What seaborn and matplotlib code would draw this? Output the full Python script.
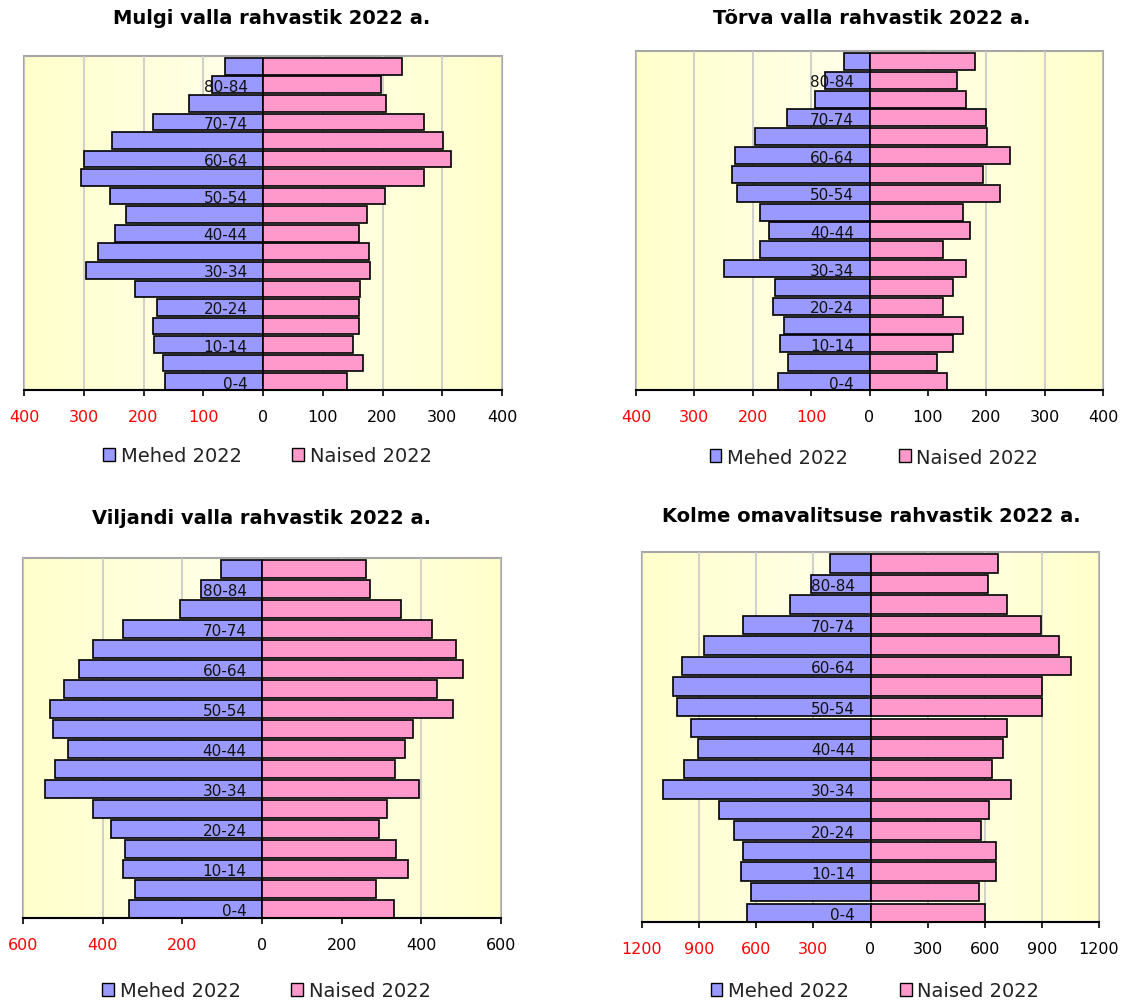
import numpy as np
import pandas as pd
import seaborn as sns
import matplotlib.pyplot as plt
from matplotlib.colors import LinearSegmentedColormap
from matplotlib.patches import Patch, Rectangle

sns.set_style("white")
plt.rcParams['font.family'] = ['DejaVu Sans']
plt.rcParams['text.color'] = 'black'
plt.rcParams['xtick.color'] = 'black'
plt.rcParams['ytick.color'] = 'black'

ages = ["0-4", "5-9", "10-14", "15-19", "20-24", "25-29", "30-34", "35-39", "40-44",
        "45-49", "50-54", "55-59", "60-64", "65-69", "70-74", "75-79", "80-84", "85+"]
shown_ages = ["0-4", "10-14", "20-24", "30-34", "40-44", "50-54", "60-64", "70-74", "80-84"]

# values, 0-4 first
mulgi_men = [164, 168, 182, 184, 177, 214, 297, 276, 247, 230, 256, 304, 299, 253, 184, 124, 85, 64]
mulgi_women = [140, 168, 151, 160, 160, 162, 179, 177, 160, 174, 204, 269, 315, 301, 269, 206, 198, 232]
torva_men = [157, 139, 153, 146, 165, 162, 250, 187, 173, 187, 227, 236, 231, 197, 141, 94, 76, 44]
torva_women = [132, 115, 143, 160, 126, 143, 166, 126, 173, 161, 224, 194, 240, 201, 199, 166, 150, 180]
viljandi_men = [334, 319, 348, 344, 380, 425, 544, 519, 488, 525, 533, 497, 459, 425, 348, 206, 154, 102]
viljandi_women = [331, 287, 366, 337, 294, 315, 395, 334, 359, 380, 480, 440, 505, 487, 427, 348, 270, 260]
kolme_men = [650, 629, 679, 672, 716, 796, 1090, 978, 906, 943, 1016, 1039, 988, 877, 672, 423, 314, 211]
kolme_women = [601, 571, 658, 658, 580, 623, 740, 637, 697, 719, 901, 901, 1055, 990, 894, 718, 615, 667]

men_color = "#9999FF"
women_color = "#FF99CC"
bg_cmap = LinearSegmentedColormap.from_list("bg", ["#FFFFCC", "#FFFFEC", "#FFFFCC"])

panels = [
    {"title": "Mulgi valla rahvastik 2022 a.", "men": mulgi_men, "women": mulgi_women,
     "lim": 400, "step": 100, "rect": [24, 57, 502, 391], "title_xy": (272, 18), "leg_y": 457},
    {"title": "Tõrva valla rahvastik 2022 a.", "men": torva_men, "women": torva_women,
     "lim": 400, "step": 100, "rect": [636, 52, 1103, 391], "title_xy": (872, 18), "leg_y": 458},
    {"title": "Viljandi valla rahvastik 2022 a.", "men": viljandi_men, "women": viljandi_women,
     "lim": 600, "step": 200, "rect": [23, 559, 501, 919], "title_xy": (262, 519), "leg_y": 992},
    {"title": "Kolme omavalitsuse rahvastik 2022 a.", "men": kolme_men, "women": kolme_women,
     "lim": 1200, "step": 300, "rect": [642, 553, 1099, 923], "title_xy": (871, 516), "leg_y": 992},
]

W, H = 1148, 1003
fig = plt.figure(figsize=(W / 100, H / 100), dpi=100)
order = ages[::-1]

for p in panels:
    x0, y0, x1, y1 = p["rect"]
    ax = fig.add_axes([x0 / W, 1 - y1 / H, (x1 - x0) / W, (y1 - y0) / H])
    df = pd.DataFrame({"age": ages, "men": [-v for v in p["men"]], "women": p["women"]})

    # Excel-like horizontal gradient fill of the plot area
    ax.imshow(np.linspace(0, 1, 200)[None, :], cmap=bg_cmap,
              extent=(0, 1, 0, 1), transform=ax.transAxes, aspect="auto", zorder=0)

    sns.barplot(data=df, x="men", y="age", order=order, orient="h", color=men_color,
                width=0.9, edgecolor="black", linewidth=1.2, saturation=1, ax=ax, zorder=2)
    sns.barplot(data=df, x="women", y="age", order=order, orient="h", color=women_color,
                width=0.9, edgecolor="black", linewidth=1.2, saturation=1, ax=ax, zorder=2)

    lim, step = p["lim"], p["step"]
    ticks = np.arange(-lim, lim + step, step)
    for t in ticks:
        ax.axvline(t, color="#C8C8C8", lw=1.2, zorder=1)
    ax.set_xlim(-lim, lim)
    ax.set_ylim(len(ages) - 0.55, -0.55)
    ax.set_xticks(ticks, labels=[str(abs(int(t))) for t in ticks])
    for t, lab in zip(ticks, ax.get_xticklabels()):
        lab.set_color("red" if t < 0 else "black")
    ax.tick_params(axis="x", direction="out", length=4, width=1.2, pad=10,
                   labelsize=11.5, color="black", bottom=True)

    # age labels sit on the zero line, like Excel's crossing axis
    ax.spines["left"].set_position(("data", 0))
    ax.spines["left"].set_visible(False)
    ax.set_yticks(range(len(order)), labels=[a if a in shown_ages else "" for a in order])
    ax.tick_params(axis="y", length=0, pad=11, labelsize=11, labelcolor="#111111")
    for lab in ax.get_yticklabels():
        lab.set_zorder(5)
    ax.set_axisbelow(False)

    ax.set_xlabel("")
    ax.set_ylabel("")
    for s in ["top", "right"]:
        ax.spines[s].set_visible(False)
    ax.spines["bottom"].set_color("black")
    ax.spines["bottom"].set_linewidth(1.5)
    ax.add_patch(Rectangle((0, 0), 1, 1, transform=ax.transAxes, fill=False,
                           edgecolor="#A6A6A6", lw=1.5, zorder=0.5, clip_on=False))

    tx, ty = p["title_xy"]
    fig.text(tx / W, 1 - ty / H, p["title"], ha="center", va="center",
             fontsize=14, fontweight="bold", color="black")

    handles = [Patch(facecolor=men_color, edgecolor="black", label="Mehed 2022"),
               Patch(facecolor=women_color, edgecolor="black", label="Naised 2022")]
    leg = ax.legend(handles=handles, loc="center", ncol=2, frameon=False, fontsize=14,
                    bbox_to_anchor=((x0 + x1) / 2 / W + 0.004, 1 - p["leg_y"] / H),
                    bbox_transform=fig.transFigure, handlelength=0.6, handleheight=0.6,
                    handletextpad=0.3, columnspacing=2.6)
    for txt in leg.get_texts():
        txt.set_color("#222222")

fig.savefig("out.png", dpi=100)
